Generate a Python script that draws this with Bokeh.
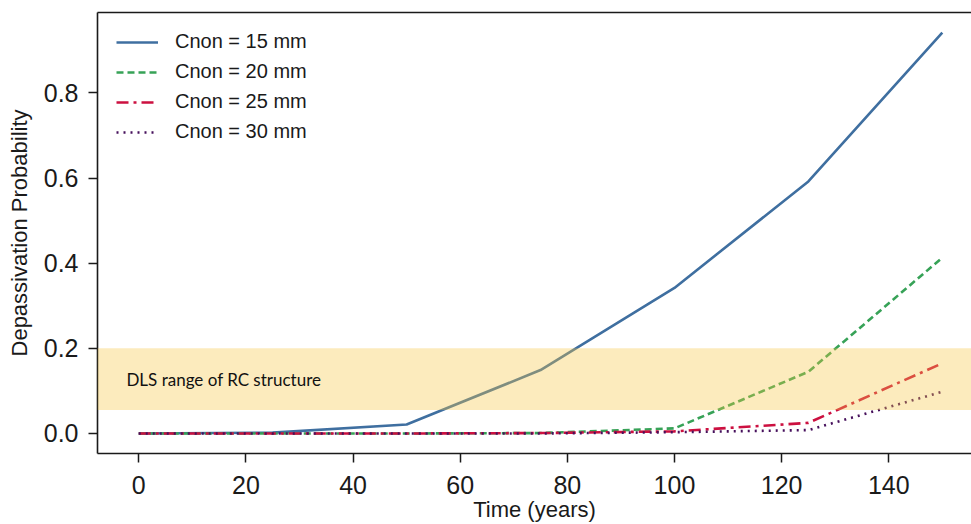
from bokeh.plotting import figure
from bokeh.models import (ColumnDataSource, BoxAnnotation, Label, LinearAxis,
                          FixedTicker, PrintfTickFormatter, Range1d, Legend, LegendItem)
from bokeh.embed import file_html
from bokeh.resources import INLINE

# ---- data ----
years = [0, 25, 50, 75, 100, 125, 150]
c15 = [0.0, 0.002, 0.021, 0.149, 0.342, 0.592, 0.942]
c20 = [0.0, 0.0, 0.0, 0.001, 0.012, 0.145, 0.413]
c25 = [0.0, 0.0, 0.0, 0.001, 0.005, 0.025, 0.165]
c30 = [0.0, 0.0, 0.0, 0.0, 0.003, 0.008, 0.098]
series_labels = ["Cnon = 15 mm", "Cnon = 20 mm", "Cnon = 25 mm", "Cnon = 30 mm"]
x_ticks = [0, 20, 40, 60, 80, 100, 120, 140]
y_ticks = [0.0, 0.2, 0.4, 0.6, 0.8]
dls_low, dls_high = 0.055, 0.2
dls_text = "DLS range of RC structure"

FONT = "Liberation Sans"
AX = "#1a1a1a"

p = figure(width=971, height=524, output_backend="svg", toolbar_location=None,
           x_range=Range1d(-7.7, 155.45), y_range=Range1d(-0.047, 0.989),
           x_axis_label="Time (years)", y_axis_label="Depassivation Probability",
           min_border_left=97, min_border_right=0, min_border_top=12, min_border_bottom=71)
p.outline_line_color = None
p.grid.grid_line_color = None
p.background_fill_color = "white"
p.border_fill_color = "white"

src = ColumnDataSource(dict(years=years, c15=c15, c20=c20, c25=c25, c30=c30))

r1 = p.line("years", "c15", source=src, line_color="#3f6fa0", line_width=2.6)
r2 = p.line("years", "c20", source=src, line_color="#37a257", line_width=2.6, line_dash="7 4")
r3 = p.line("years", "c25", source=src, line_color="#cc1040", line_width=2.6, line_dash="12 5 3 5")
r4 = p.line("years", "c30", source=src, line_color="#46105c", line_width=2.6, line_dash="2 5")

band = BoxAnnotation(bottom=dls_low, top=dls_high, fill_color="#f5c542", fill_alpha=0.35,
                     line_color=None)
p.add_layout(band)

lbl = Label(x=-2.3, y=0.126, text=dls_text, text_font="Lato", text_font_size="17px",
            text_color="#111111", text_baseline="middle")
p.add_layout(lbl)

legend = Legend(items=[LegendItem(label=series_labels[0], renderers=[r1]),
                       LegendItem(label=series_labels[1], renderers=[r2]),
                       LegendItem(label=series_labels[2], renderers=[r3]),
                       LegendItem(label=series_labels[3], renderers=[r4])],
                location=(19, 310), glyph_width=42, glyph_height=20, label_height=20,
                spacing=7, padding=0, margin=0, label_standoff=17,
                label_text_font=FONT, label_text_font_size="20px", label_text_color="#1a1a1a",
                border_line_color=None, background_fill_alpha=0.0)
p.add_layout(legend)

for ax in (p.xaxis[0], p.yaxis[0]):
    ax.axis_line_color = AX
    ax.axis_line_width = 1.6
    ax.major_tick_line_color = AX
    ax.major_tick_line_width = 1.5
    ax.major_tick_out = 9
    ax.major_tick_in = 0
    ax.minor_tick_line_color = None
    ax.major_label_text_font = FONT
    ax.major_label_text_font_size = "25px"
    ax.major_label_text_color = "#1a1a1a"
    ax.axis_label_text_font = FONT
    ax.axis_label_text_font_size = "22px"
    ax.axis_label_text_font_style = "normal"
    ax.axis_label_text_color = "#1a1a1a"

p.xaxis[0].ticker = FixedTicker(ticks=x_ticks)
p.yaxis[0].ticker = FixedTicker(ticks=y_ticks)
p.yaxis[0].formatter = PrintfTickFormatter(format="%.1f")
p.xaxis[0].major_label_standoff = 13
p.xaxis[0].axis_label_standoff = 0
p.yaxis[0].major_label_standoff = 10
p.yaxis[0].axis_label_standoff = 9

top = LinearAxis(ticker=FixedTicker(ticks=x_ticks), major_tick_out=0, major_tick_in=0,
                 minor_tick_out=0, minor_tick_in=0, major_label_standoff=0,
                 major_label_text_font_size="1px", major_label_text_color=None,
                 axis_line_color=AX, axis_line_width=1.6)
p.add_layout(top, "above")

open("out.html", "w").write(file_html(p, INLINE))
